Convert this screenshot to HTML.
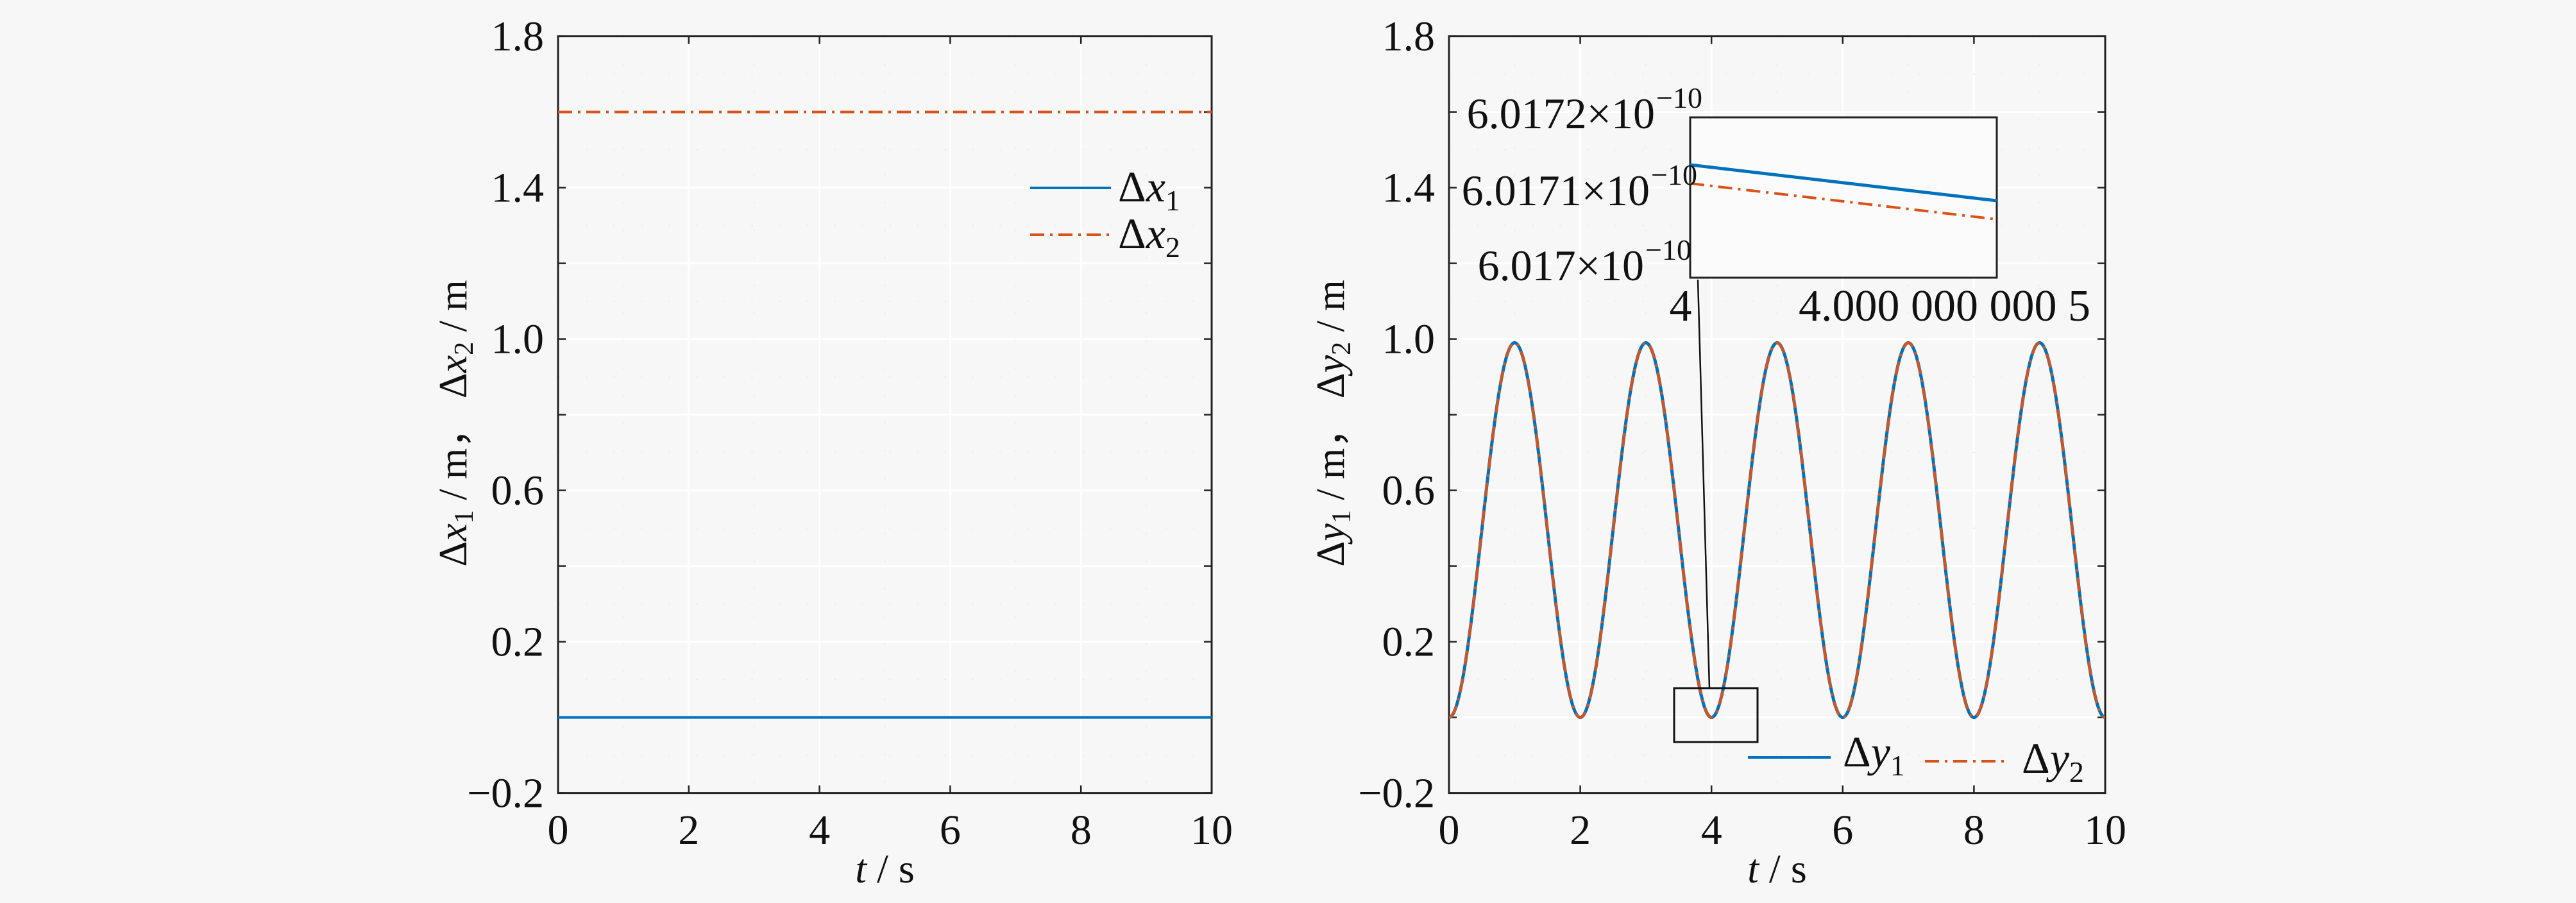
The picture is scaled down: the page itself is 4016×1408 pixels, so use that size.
<!DOCTYPE html>
<html><head><meta charset="utf-8"><style>
html,body{margin:0;padding:0;background:#f7f7f7;}
svg{display:block;}
text{font-family:"Liberation Serif",serif;fill:#111;}
</style></head><body>
<svg id="s" width="4016" height="1408" viewBox="0 0 4016 1408" xmlns="http://www.w3.org/2000/svg">
<rect width="4016" height="1408" fill="#f7f7f7"/>
<g id="g"></g>
</svg>
<script>
const NS="http://www.w3.org/2000/svg";
const g=document.getElementById('g');
function el(t,a,txt){const e=document.createElementNS(NS,t);for(const k in a)e.setAttribute(k,a[k]);if(txt!==undefined)e.innerHTML=txt;g.appendChild(e);return e;}
const T=56.6,B=1236.6;const Y=v=>T+(1.8-v)*590;
function panel(L,R,right){
  const X=v=>L+(R-L)*v/10;
  for(let i=1;i<10;i++){const x=X(i);el('line',{x1:x,x2:x,y1:T,y2:B,stroke:i%2?'#eeeeee':'#ffffff','stroke-width':i%2?2:3,'stroke-dasharray':i%2?'3 40':''});}
  for(let v=-0.1;v<1.8;v+=0.1){const y=Y(v);const maj=Math.abs(Math.round(v*10)%2)==0;el('line',{x1:L,x2:R,y1:y,y2:y,stroke:maj?'#ffffff':'#eeeeee','stroke-width':maj?3:2,'stroke-dasharray':maj?'':'3 40'});}
  for(let i=0;i<=10;i+=2){const x=X(i);el('line',{x1:x,x2:x,y1:B,y2:B-12,stroke:'#222','stroke-width':2.5});el('line',{x1:x,x2:x,y1:T,y2:T+12,stroke:'#222','stroke-width':2.5});
    el('text',{x:x,y:1316,'font-size':66,'text-anchor':'middle'},String(i));}
  for(let k=0;k<=10;k++){const v=-0.2+k*0.2;const y=Y(v);el('line',{x1:L,x2:L+12,y1:y,y2:y,stroke:'#222','stroke-width':2.5});el('line',{x1:R,x2:R-12,y1:y,y2:y,stroke:'#222','stroke-width':2.5});
    if(k%2==0)el('text',{x:L-22,y:y+22,'font-size':66,'text-anchor':'end'},(v<0?'\u2212':'')+Math.abs(v).toFixed(1));}
  el('rect',{x:L,y:T,width:R-L,height:B-T,fill:'none',stroke:'#222','stroke-width':3});
  el('text',{x:(L+R)/2,y:1376,'font-size':64,'text-anchor':'middle'},'<tspan font-style="italic">t</tspan> / s');
  const v=right?'y':'x';
  const cx=right?2075:707;
  el('text',{x:cx,y:660,'font-size':62,'text-anchor':'middle',transform:`rotate(-90 ${cx} 660)`,dy:20},
   `Δ<tspan font-style="italic">${v}</tspan><tspan font-size="42" dy="10">1</tspan><tspan dy="-10"> / m， Δ</tspan><tspan font-style="italic">${v}</tspan><tspan font-size="42" dy="10">2</tspan><tspan dy="-10"> / m</tspan>`);
  return X;
}
const XL=panel(870,1889,false);
el('line',{x1:870,x2:1889,y1:Y(0),y2:Y(0),stroke:'#0072BD','stroke-width':4});
el('line',{x1:870,x2:1889,y1:Y(1.6),y2:Y(1.6),stroke:'#D95319','stroke-width':4,'stroke-dasharray':'22 9 4 9'});
el('line',{x1:1606,x2:1732,y1:293,y2:293,stroke:'#0072BD','stroke-width':4});
el('line',{x1:1606,x2:1732,y1:366,y2:366,stroke:'#D95319','stroke-width':4,'stroke-dasharray':'22 9 4 9'});
el('text',{x:1743,y:314,'font-size':68},'Δ<tspan font-style="italic">x</tspan><tspan font-size="46" dy="14">1</tspan>');
el('text',{x:1743,y:387,'font-size':68},'Δ<tspan font-style="italic">x</tspan><tspan font-size="46" dy="14">2</tspan>');
const XR=panel(2259,3282,true);
let d='';for(let i=0;i<=1000;i++){const t=i/100;const y=0.99*(1-Math.cos(Math.PI*t))/2;d+=(i?'L':'M')+XR(t).toFixed(1)+' '+Y(y).toFixed(1);}
el('path',{d:d,fill:'none',stroke:'#0072BD','stroke-width':5});
el('path',{d:d,fill:'none',stroke:'#D95319','stroke-width':4,'stroke-dasharray':'22 9 4 9'});
el('rect',{x:2610,y:1073,width:130,height:84,fill:'none',stroke:'#111','stroke-width':3});
el('line',{x1:2647,y1:436,x2:2665,y2:1073,stroke:'#111','stroke-width':2.5});
el('rect',{x:2635,y:183,width:478,height:250,fill:'#fbfbfb',stroke:'#222','stroke-width':3});
el('line',{x1:2635,y1:257,x2:3113,y2:313,stroke:'#0072BD','stroke-width':5});
el('line',{x1:2635,y1:286,x2:3113,y2:342,stroke:'#D95319','stroke-width':4,'stroke-dasharray':'22 9 4 9'});
el('text',{x:2580,y:200,'font-size':68,'text-anchor':'end'},'6.0172×10');
el('text',{x:2582,y:168,'font-size':46},'−10');
el('text',{x:2572,y:320,'font-size':68,'text-anchor':'end'},'6.0171×10');
el('text',{x:2574,y:288,'font-size':46},'−10');
el('text',{x:2563,y:437,'font-size':68,'text-anchor':'end'},'6.017×10');
el('text',{x:2565,y:405,'font-size':46},'−10');
el('text',{x:2620,y:500,'font-size':70,'text-anchor':'middle'},'4');
el('text',{x:3259,y:500,'font-size':70,'text-anchor':'end'},'4.000 000 000 5');
el('line',{x1:2725,x2:2854,y1:1181,y2:1181,stroke:'#0072BD','stroke-width':4});
el('line',{x1:3001,x2:3125,y1:1187,y2:1187,stroke:'#D95319','stroke-width':4,'stroke-dasharray':'22 9 4 9'});
el('text',{x:2873,y:1195,'font-size':68},'Δ<tspan font-style="italic">y</tspan><tspan font-size="46" dy="14">1</tspan>');
el('text',{x:3152,y:1205,'font-size':68},'Δ<tspan font-style="italic">y</tspan><tspan font-size="46" dy="14">2</tspan>');
</script>
</body></html>
